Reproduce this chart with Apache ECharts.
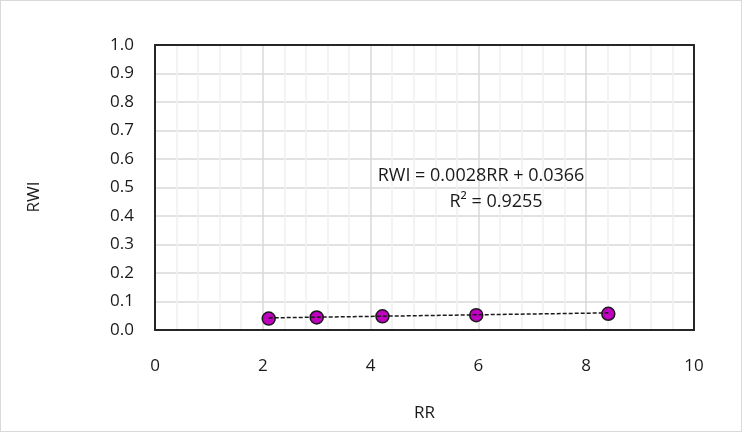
<!DOCTYPE html>
<html>
<head>
<meta charset="utf-8">
<style>
  html, body { margin: 0; padding: 0; background: #fff; }
  #chart { width: 742px; height: 432px; box-sizing: border-box; border: 1px solid #d9d9d9; }
</style>
</head>
<body>
<div id="chart"></div>
<script src="https://cdn.jsdelivr.net/npm/echarts@6/dist/echarts.min.js"></script>
<script>
  // measured points (RR, RWI)
  const rrValues = [2.11, 3.0, 4.22, 5.96, 8.41];
  const rwiValues = [0.040, 0.044, 0.048, 0.052, 0.057];
  // trendline end points as drawn
  const trendPoints = [[2.11, 0.0425], [8.41, 0.0601]];
  const equationLines = ['RWI = 0.0028RR + 0.0366', 'R² = 0.9255'];

  const font = 'Open Sans, Noto Sans, sans-serif';
  const ink = '#1a1a1a';
  const frame = { show: true, onZero: false, lineStyle: { color: '#262626', width: 2 } };
  const chart = echarts.init(document.getElementById('chart'));

  chart.setOption({
    animation: false,
    grid: { left: 154, right: 47, top: 44, bottom: 101 },
    xAxis: [{
      type: 'value', min: 0, max: 10, interval: 2,
      name: 'RR', nameLocation: 'middle', nameGap: 75,
      nameTextStyle: { fontFamily: font, fontSize: 17, color: ink },
      axisLine: frame, axisTick: { show: false },
      axisLabel: { fontFamily: font, fontSize: 17, color: ink, margin: 28 },
      splitLine: { lineStyle: { color: '#d9d9d9', width: 1.5 } },
      minorTick: { show: false, splitNumber: 5 },
      minorSplitLine: { show: true, lineStyle: { color: '#efefef', width: 1.5 } }
    }, {
      type: 'value', position: 'top', min: 0, max: 10,
      axisLine: frame, axisTick: { show: false }, axisLabel: { show: false }, splitLine: { show: false }
    }],
    yAxis: [{
      type: 'value', min: 0, max: 1, interval: 0.1,
      axisLine: frame, axisTick: { show: false },
      axisLabel: { fontFamily: font, fontSize: 17, color: ink, margin: 21, formatter: v => v.toFixed(1) },
      splitLine: { lineStyle: { color: '#d9d9d9', width: 1.5 } }
    }, {
      type: 'value', position: 'right', min: 0, max: 1,
      axisLine: frame, axisTick: { show: false }, axisLabel: { show: false }, splitLine: { show: false }
    }],
    series: [
      {
        type: 'scatter',
        data: rrValues.map((x, i) => [x, rwiValues[i]]),
        symbolSize: 13,
        itemStyle: { color: '#bf00bf', borderColor: ink, borderWidth: 1.5, opacity: 1 },
        z: 3
      },
      {
        type: 'line',
        data: trendPoints,
        showSymbol: false,
        lineStyle: { color: ink, width: 1.5, type: [4, 2] },
        z: 4
      }
    ],
    graphic: [
      {
        type: 'text', x: 33, y: 196, rotation: Math.PI / 2, z: 100,
        style: { text: 'RWI', font: '17px ' + font, fill: ink, align: 'center', verticalAlign: 'middle' }
      },
      {
        type: 'text', x: 480, y: 175, z: 100,
        style: { text: equationLines[0], font: '18px ' + font, fill: ink, align: 'center', verticalAlign: 'middle' }
      },
      {
        type: 'text', x: 495, y: 201, z: 100,
        style: { text: equationLines[1], font: '18px ' + font, fill: ink, align: 'center', verticalAlign: 'middle' }
      }
    ]
  });
</script>
</body>
</html>
